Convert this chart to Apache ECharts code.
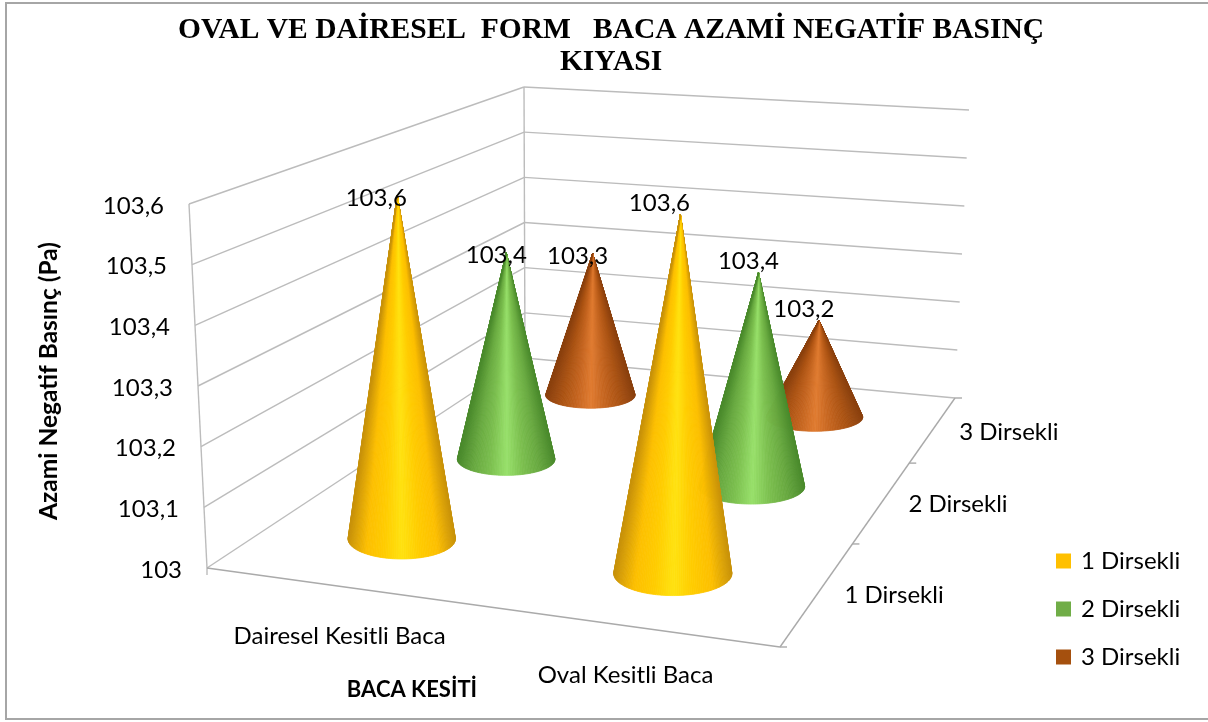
<!DOCTYPE html>
<html>
<head>
<meta charset="utf-8">
<title>Baca kıyası</title>
<script src="https://cdn.jsdelivr.net/npm/echarts@6/dist/echarts.min.js"></script>
<style>
  html, body { margin: 0; padding: 0; background: #fff; }
  #chart { width: 1208px; height: 722px; }
</style>
</head>
<body>
<div id="chart"></div>
<script>
// data
const categories = ['Dairesel Kesitli Baca', 'Oval Kesitli Baca'];
const seriesNames = ['1 Dirsekli', '2 Dirsekli', '3 Dirsekli'];
const dirsekli1 = [103.6, 103.6];
const dirsekli2 = [103.4, 103.4];
const dirsekli3 = [103.3, 103.2];
const yTicks = [103, 103.1, 103.2, 103.3, 103.4, 103.5, 103.6];

// cone shading: centre to edge
const shades = [
  ['#ffe210', '#ffcc00', '#fdbf00', '#c8920a'],
  ['#98e06a', '#7cc04f', '#68a940', '#4a8a2c'],
  ['#e07b30', '#c4641f', '#aa5212', '#8a400e']
];
const swatches = ['#ffc000', '#70ad47', '#a5500e'];

// corners of the 3d box on the page: front left, front right, back right, back left
const floorQuad = [[207, 568], [780, 647], [955, 398], [525, 358]];
const roofQuad = [[189, 204], [790, 262], [969, 110], [524, 87]];
// the cones top out a little differently from the wall lines
const coneRoofQuad = [[189, 212], [788, 255], [971, 116], [525, 90]];
const GRID = { left: 100, top: 100, width: 1000, height: 500 };
const FONT = 'Lato';
const labelDx = [-21, -10, -15]; // data label offset per series
const labelDy = [3, -11];        // data label offset per category

const fmt = (v) => String(v).replace('.', ',');

// unit square to quad
const makeQuad = (q) => {
  const [p0, p1, p2, p3] = q;
  const dx1 = p1[0] - p2[0], dx2 = p3[0] - p2[0], sx = p0[0] - p1[0] + p2[0] - p3[0];
  const dy1 = p1[1] - p2[1], dy2 = p3[1] - p2[1], sy = p0[1] - p1[1] + p2[1] - p3[1];
  const den = dx1 * dy2 - dx2 * dy1;
  const g = (sx * dy2 - dx2 * sy) / den;
  const h = (dx1 * sy - sx * dy1) / den;
  const a = p1[0] - p0[0] + g * p1[0], b = p3[0] - p0[0] + h * p3[0];
  const d = p1[1] - p0[1] + g * p1[1], e = p3[1] - p0[1] + h * p3[1];
  return (u, v) => {
    const k = g * u + h * v + 1;
    return [(a * u + b * v + p0[0]) / k, (d * u + e * v + p0[1]) / k];
  };
};
const floorAt = makeQuad(floorQuad);
const roofAt = makeQuad(roofQuad);
const coneRoofAt = makeQuad(coneRoofQuad);

// u along the front, v into the depth, w up the wall (all 0..1)
const project = (u, v, w, roof) => {
  const a = floorAt(u, v), b = (roof || roofAt)(u, v);
  return [a[0] + (b[0] - a[0]) * w, a[1] + (b[1] - a[1]) * w];
};

// read u and w back from the hidden axes, so the marks go through the library scales
const toUnit = (api, cat, val) => {
  const p = api.coord([cat, val]);
  return [(p[0] - GRID.left) / GRID.width, (GRID.top + GRID.height - p[1]) / GRID.height];
};

const line = (a, b, color, width) => ({
  type: 'line',
  shape: { x1: a[0], y1: a[1], x2: b[0], y2: b[1] },
  style: { stroke: color, lineWidth: width || 1.4 },
  silent: true
});
const label = (text, x, y, size, align, weight) => ({
  type: 'text',
  x: x,
  y: y,
  style: {
    text: text,
    fill: '#000',
    font: (weight || 'normal') + ' ' + size + 'px ' + FONT,
    align: align || 'center',
    verticalAlign: 'middle'
  },
  silent: true
});

// walls, floor, ticks and axis labels
const renderBox = (params, api) => {
  const kids = [];
  const grey = '#bcbcbc';
  yTicks.forEach((t) => {
    const w = toUnit(api, 0, t)[1];
    const left = project(0, 0, w), back = project(0, 1, w), right = project(1, 1, w);
    kids.push(line(left, back, grey), line(back, right, grey));
    kids.push(label(fmt(t), left[0] - 25, left[1] + 2, 24, 'right'));
  });
  kids.push(line(project(0, 0, 0), project(0, 0, 1), grey));
  kids.push(line(project(0, 1, 0), project(0, 1, 1), grey));
  kids.push(line(project(0, 0, 0), [207, 575], grey));
  kids.push(line(project(0, 0, 0), project(1, 0, 0), '#aaaaaa'));
  kids.push(line(project(1, 0, 0), project(1, 1, 0), '#aaaaaa'));
  [0, 1 / 3, 2 / 3, 1].forEach((v) => {
    const p = project(1, v, 0);
    kids.push(line(p, [p[0] + 7, p[1]], '#aaaaaa'));
  });
  categories.forEach((c, i) => {
    const u = toUnit(api, i, yTicks[0])[0];
    const p = project(u, 0, 0);
    kids.push(label(c, p[0], p[1] + 50, 24));
  });
  seriesNames.forEach((n, i) => {
    const p = project(1, (i + 0.5) / 3, 0);
    kids.push(label(n, p[0] + 26, p[1] + 3, 24, 'left'));
  });
  return { type: 'group', children: kids };
};

// one cone, cut into thin slices fanning out of the apex
const makeCone = (s) => (params, api) => {
  const val = api.value(1);
  const cat = api.value(0);
  const [u, w] = toUnit(api, cat, val);
  const v = (s + 0.5) / 3;
  const c = project(u, v, 0);
  const top = project(u, v, w, coneRoofAt);
  const l = project(u - 0.103, v, 0), r = project(u + 0.103, v, 0);
  const f = project(u, v - 0.075, 0), b = project(u, v + 0.075, 0);
  const rx = Math.hypot(r[0] - l[0], r[1] - l[1]) / 2;
  const ry = Math.abs(f[1] - b[1]) / 2;
  const px = (top[0] - c[0]) / rx, py = (top[1] - c[1]) / ry;
  const mid = Math.atan2(py, px);
  const off = Math.acos(1 / Math.hypot(px, py));
  const from = mid + off, to = mid + 2 * Math.PI - off;
  const n = 90;
  const kids = [];
  for (let i = 0; i < n; i++) {
    const a1 = from + (to - from) * i / n, a2 = from + (to - from) * (i + 1) / n;
    const t = Math.abs(Math.cos((a1 + a2) / 2));
    const col = echarts.color.lerp(t, shades[s]);
    kids.push({
      type: 'polygon',
      shape: { points: [top, [c[0] + rx * Math.cos(a1), c[1] + ry * Math.sin(a1)], [c[0] + rx * Math.cos(a2), c[1] + ry * Math.sin(a2)]] },
      style: { fill: col, stroke: col, lineWidth: 0.8, lineJoin: 'round' },
      silent: true
    });
  }
  kids.push(label(fmt(val), top[0] + labelDx[s], top[1] + labelDy[cat], 24));
  return { type: 'group', children: kids };
};

const seriesValues = [dirsekli1, dirsekli2, dirsekli3];
const coneSeries = seriesNames.map((name, s) => ({
  name: name,
  type: 'custom',
  coordinateSystem: 'cartesian2d',
  z: 4 - s,
  clip: false,
  itemStyle: { color: swatches[s] },
  encode: { x: 0, y: 1 },
  data: seriesValues[s].map((val, i) => [i, val]),
  renderItem: makeCone(s)
}));

const chart = echarts.init(document.getElementById('chart'));
chart.setOption({
  animation: false,
  backgroundColor: '#fff',
  title: {
    text: 'OVAL VE DAİRESEL  FORM   BACA AZAMİ NEGATİF BASINÇ\nKIYASI',
    left: 606,
    top: 9,
    textAlign: 'center',
    textStyle: { fontFamily: 'Liberation Serif', fontWeight: 'bold', fontSize: 29.5, lineHeight: 32, color: '#000' }
  },
  legend: {
    data: seriesNames,
    orient: 'vertical',
    left: 1051,
    top: 544,
    icon: 'rect',
    itemWidth: 15,
    itemHeight: 15,
    itemGap: 24,
    textStyle: { fontFamily: FONT, fontSize: 24, color: '#000', padding: [0, 0, 0, 5] },
    selectedMode: false
  },
  grid: GRID,
  xAxis: { type: 'category', data: categories, show: false },
  yAxis: { type: 'value', min: 103, max: 103.6, interval: 0.1, show: false },
  graphic: [
    // chart frame: open on the right, cut off by the page edge
    { type: 'polyline', shape: { points: [[1208, 3], [6, 3], [6, 719], [1208, 719]] }, style: { fill: 'none', stroke: '#a6a6a6', lineWidth: 2 }, silent: true },
    { type: 'text', x: 49, y: 381, rotation: Math.PI / 2, style: { text: 'Azami Negatif Basınç (Pa)', font: 'bold 24.5px ' + FONT, fill: '#000', align: 'center', verticalAlign: 'middle' }, silent: true },
    { type: 'text', x: 412, y: 690, style: { text: 'BACA KESİTİ', font: 'bold 22px ' + FONT, fill: '#000', align: 'center', verticalAlign: 'middle' }, silent: true }
  ],
  series: [
    { name: 'kutu', type: 'custom', coordinateSystem: 'cartesian2d', z: 1, clip: false, data: [[0, 103]], encode: { x: 0, y: 1 }, renderItem: renderBox }
  ].concat(coneSeries)
});
</script>
</body>
</html>
